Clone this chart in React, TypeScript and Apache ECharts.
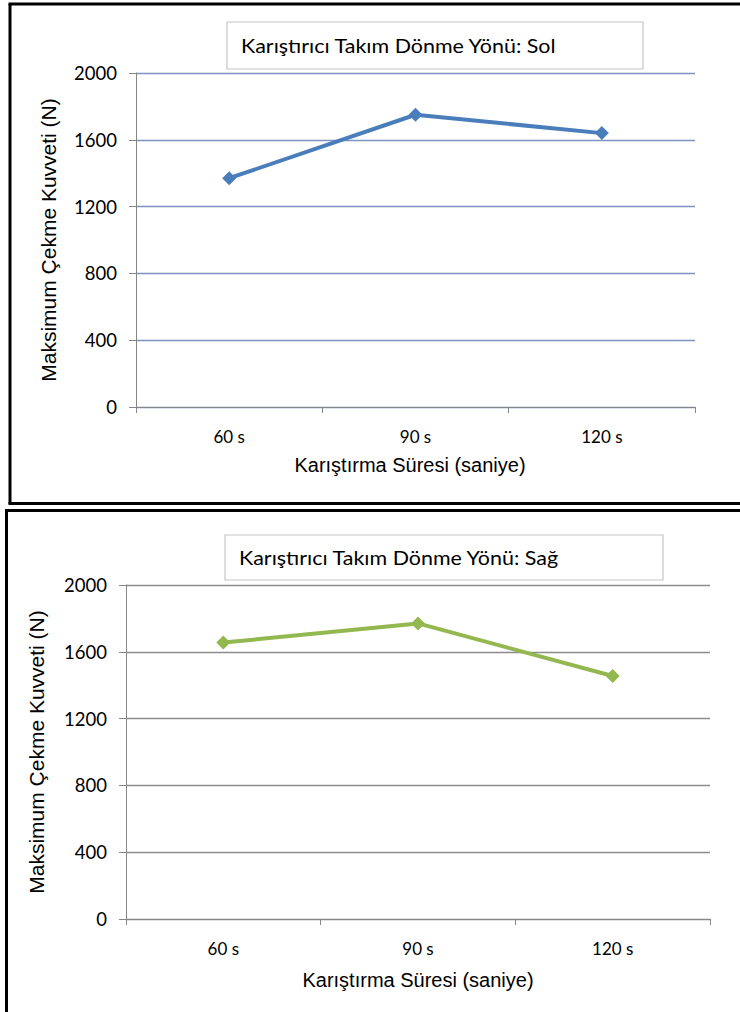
import React, { useEffect, useRef } from "react";
import * as echarts from "echarts";

const categories = ["60 s", "90 s", "120 s"];
const solValues = [1370, 1750, 1640];
const sagValues = [1655, 1770, 1455];
const yTicks = { min: 0, max: 2000, interval: 400 };
const titleSol = "Karıştırıcı Takım Dönme Yönü: Sol";
const titleSag = "Karıştırıcı Takım Dönme Yönü: Sağ";
const xName = "Karıştırma Süresi (saniye)";
const yName = "Maksimum Çekme Kuvveti (N)";

const LABEL_FONT = "Lato, 'Noto Sans', sans-serif";
const NAME_FONT = "'Liberation Sans', Arial, sans-serif";

export default function App() {
  const ref = useRef<HTMLDivElement>(null);
  useEffect(() => {
    if (!ref.current) return;
    const chart = echarts.init(ref.current, null, { renderer: "svg" });
    const grids = [
      { left: 136, top: 73, width: 559, height: 334 },
      { left: 126, top: 585, width: 584, height: 334 },
    ];
    const gridColors = ["#7d95bf", "#8c8c8c"];
    const xAxes = grids.map((_, i) => ({
      type: "category",
      gridIndex: i,
      data: categories,
      boundaryGap: true,
      axisLine: { lineStyle: { color: "#868686", width: 1 } },
      axisTick: { show: true, length: 6, interval: 0, lineStyle: { color: "#868686" } },
      axisLabel: { color: "#000", fontFamily: LABEL_FONT, fontSize: 17, margin: 21 },
      splitLine: { show: false },
    }));
    const yAxes = grids.map((_, i) => ({
      type: "value",
      gridIndex: i,
      min: yTicks.min,
      max: yTicks.max,
      interval: yTicks.interval,
      axisLine: { show: true, lineStyle: { color: "#868686", width: 1 } },
      axisTick: { show: true, length: 7, lineStyle: { color: "#868686" } },
      axisLabel: {
        color: "#000",
        fontFamily: LABEL_FONT,
        fontSize: 18.5,
        margin: 19,
        formatter: (v: number) => String(v),
      },
      splitLine: { show: true, lineStyle: { color: gridColors[i], width: 1.3 } },
    }));
    const series = [
      { data: solValues, color: "#4a7ebb" },
      { data: sagValues, color: "#93b850" },
    ].map((s, i) => ({
      type: "line",
      xAxisIndex: i,
      yAxisIndex: i,
      data: s.data,
      symbol: "diamond",
      symbolSize: 14,
      lineStyle: { color: s.color, width: 4 },
      itemStyle: { color: s.color },
    }));

    const border = (x1: number, y1: number, x2: number, y2: number) => ({
      type: "line",
      shape: { x1, y1, x2, y2 },
      style: { stroke: "#000", lineWidth: 3 },
    });
    const titleBox = (x: number, y: number, w: number, h: number, text: string) => [
      { type: "rect", shape: { x, y, width: w, height: h }, style: { fill: "#fff", stroke: "#c6c6c6", lineWidth: 1.2 } },
      {
        type: "text",
        x: x + 14,
        y: y + h / 2,
        scaleX: 1.13,
        style: { text, fill: "#000", font: `19px ${LABEL_FONT}`, verticalAlign: "middle", align: "left" },
      },
    ];
    const yNameText = (x: number, y: number) => ({
      type: "text",
      x,
      y,
      rotation: Math.PI / 2,
      style: { text: yName, fill: "#000", font: `21px ${NAME_FONT}`, align: "center", verticalAlign: "middle" },
    });
    const xNameText = (x: number, y: number) => ({
      type: "text",
      x,
      y,
      style: { text: xName, fill: "#000", font: `20px ${NAME_FONT}`, align: "center", verticalAlign: "middle" },
    });

    chart.setOption({
      animation: false,
      backgroundColor: "#fff",
      grid: grids,
      xAxis: xAxes,
      yAxis: yAxes,
      series,
      graphic: [
        border(8.5, 4, 740, 4),
        border(10, 4, 10, 504),
        border(8.5, 503.5, 740, 503.5),
        border(5, 510.5, 740, 510.5),
        border(6.5, 510.5, 6.5, 1012),
        ...titleBox(227, 22, 416, 47, titleSol),
        ...titleBox(225, 535, 438, 45, titleSag),
        yNameText(48, 240),
        yNameText(36, 752),
        xNameText(410, 465),
        xNameText(418, 980),
      ],
    });
    return () => chart.dispose();
  }, []);
  return (
    <div
      ref={ref}
      style={{ position: "absolute", left: 0, top: 0, width: 740, height: 1012 }}
    />
  );
}
